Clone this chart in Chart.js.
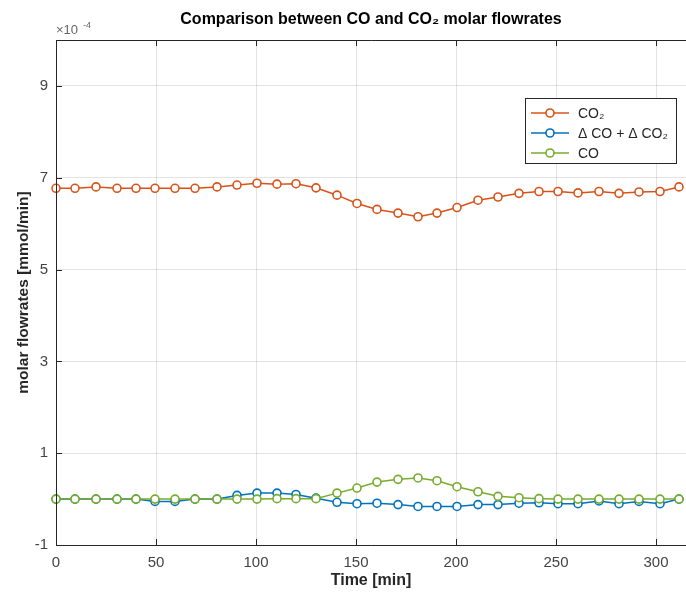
<!DOCTYPE html>
<html>
<head>
<meta charset="utf-8">
<script src="https://cdn.jsdelivr.net/npm/chart.js@4/dist/chart.umd.min.js"></script>
<style>
  html, body { margin: 0; padding: 0; background: #fff; }
  #wrap { width: 686px; height: 594px; }
</style>
</head>
<body>
<div id="wrap"><canvas id="flowChart" width="686" height="594"></canvas></div>
<script>
// Time axis (min) and series values, in units of 1e-4 mmol/min
const timeMin = [0, 9.5, 20, 30.5, 40, 49.5, 59.5, 69.5, 80.5, 90.5, 100.5, 110.5, 120, 130, 140.5, 150.5,
  160.5, 171, 181, 190.5, 200.5, 211, 221, 231.5, 241.5, 251, 261, 271.5, 281.5, 291.5, 302, 311.5];
const co2 = [6.77, 6.77, 6.80, 6.77, 6.77, 6.77, 6.77, 6.77, 6.80, 6.84, 6.88, 6.86, 6.87, 6.78, 6.62, 6.44,
  6.31, 6.23, 6.15, 6.23, 6.35, 6.51, 6.58, 6.66, 6.70, 6.70, 6.67, 6.70, 6.66, 6.69, 6.70, 6.80];
const deltaSum = [0, 0, 0, 0, 0, -0.05, -0.05, 0, 0, 0.08, 0.13, 0.13, 0.10, 0.02, -0.07, -0.10,
  -0.09, -0.12, -0.16, -0.16, -0.16, -0.12, -0.12, -0.09, -0.08, -0.10, -0.10, -0.04, -0.10, -0.05, -0.10, 0];
const co = [0, 0, 0, 0, 0, 0, 0, 0, 0, 0, 0, 0.01, 0.01, 0.01, 0.13, 0.24,
  0.37, 0.43, 0.46, 0.40, 0.27, 0.16, 0.06, 0.03, 0.01, 0, 0, 0, 0, 0, 0, 0];

const xTicks = [0, 50, 100, 150, 200, 250, 300];
const yTicks = [-1, 1, 3, 5, 7, 9];

const seriesLabels = ['CO₂', 'Δ CO + Δ CO₂', 'CO'];
const seriesColors = ['#D95319', '#0072BD', '#77AC30'];

const axisColor = '#262626';
const tickColor = '#444';
const gridColor = 'rgba(0,0,0,0.11)';
const fontFamily = '"Liberation Sans", Arial, Helvetica, sans-serif';

function toPoints(values) {
  return values.map((v, i) => ({ x: timeMin[i], y: v }));
}

function makeDataset(values, idx, order) {
  return {
    label: seriesLabels[idx],
    data: toPoints(values),
    borderColor: seriesColors[idx],
    backgroundColor: seriesColors[idx],
    pointBackgroundColor: '#fff',
    pointBorderColor: seriesColors[idx],
    pointBorderWidth: 1.6,
    pointRadius: 4,
    borderWidth: 1.5,
    tension: 0,
    clip: false,
    order: order
  };
}

// Box, inward ticks, exponent label and legend
const matlabLook = {
  id: 'matlabLook',
  afterDraw(chart) {
    const ctx = chart.ctx;
    const area = chart.chartArea;
    const xs = chart.scales.x;
    const ys = chart.scales.y;
    ctx.save();
    ctx.strokeStyle = axisColor;
    ctx.lineWidth = 1;
    ctx.beginPath();
    ctx.moveTo(area.right, area.top + 0.5);
    ctx.lineTo(area.left + 0.5, area.top + 0.5);
    ctx.lineTo(area.left + 0.5, area.bottom + 0.5);
    ctx.lineTo(area.right, area.bottom + 0.5);
    ctx.stroke();

    // inward ticks
    ctx.beginPath();
    xTicks.forEach(t => {
      const px = Math.round(xs.getPixelForValue(t)) + 0.5;
      ctx.moveTo(px, area.bottom); ctx.lineTo(px, area.bottom - 6);
      ctx.moveTo(px, area.top); ctx.lineTo(px, area.top + 6);
    });
    yTicks.forEach(t => {
      const py = Math.round(ys.getPixelForValue(t)) + 0.5;
      ctx.moveTo(area.left, py); ctx.lineTo(area.left + 6, py);
    });
    ctx.stroke();

    // exponent label
    ctx.fillStyle = '#666';
    ctx.textBaseline = 'alphabetic';
    ctx.textAlign = 'left';
    ctx.font = '13px ' + fontFamily;
    ctx.fillText('×10', area.left, area.top - 6);
    ctx.font = '9px ' + fontFamily;
    ctx.fillText('-4', area.left + 27, area.top - 12);

    // legend
    const lx = 525, ly = 98, lw = 151, lh = 65;
    ctx.fillStyle = '#fff';
    ctx.fillRect(lx, ly, lw, lh);
    ctx.strokeStyle = axisColor;
    ctx.lineWidth = 1;
    ctx.strokeRect(lx + 0.5, ly + 0.5, lw, lh);
    ctx.font = '14px ' + fontFamily;
    ctx.textBaseline = 'middle';
    chart.data.datasets.forEach((ds, i) => {
      const rowY = ly + 15 + i * 20;
      ctx.strokeStyle = ds.borderColor;
      ctx.lineWidth = 1.5;
      ctx.beginPath();
      ctx.moveTo(lx + 6, rowY); ctx.lineTo(lx + 44, rowY);
      ctx.stroke();
      ctx.fillStyle = '#fff';
      ctx.beginPath();
      ctx.arc(lx + 25, rowY, 4, 0, Math.PI * 2);
      ctx.fill();
      ctx.lineWidth = 1.6;
      ctx.stroke();
      ctx.fillStyle = axisColor;
      ctx.fillText(ds.label, lx + 53, rowY + 1);
    });
    ctx.restore();
  }
};

new Chart(document.getElementById('flowChart'), {
  type: 'line',
  data: {
    datasets: [
      makeDataset(co2, 0, 2),
      makeDataset(deltaSum, 1, 1),
      makeDataset(co, 2, 0)
    ]
  },
  options: {
    responsive: false,
    animation: false,
    layout: { autoPadding: false, padding: { left: 0, right: 0, top: 0, bottom: 0 } },
    plugins: {
      legend: { display: false },
      tooltip: { enabled: false },
      title: {
        display: true,
        fullSize: false,
        text: 'Comparison between CO and CO₂ molar flowrates',
        color: '#000',
        font: { family: fontFamily, size: 16, weight: 'bold' },
        padding: { top: 10, bottom: 10.8 }
      }
    },
    scales: {
      x: {
        type: 'linear',
        min: 0,
        max: 315,
        afterBuildTicks: s => { s.ticks = xTicks.map(v => ({ value: v })); },
        afterFit: s => { s.height = 49; s.paddingLeft = 0; s.paddingRight = 0; },
        grid: { color: gridColor, drawTicks: false },
        border: { display: false },
        ticks: { color: tickColor, padding: 9, font: { family: fontFamily, size: 15 }, maxRotation: 0 },
        title: {
          display: true,
          text: 'Time [min]',
          color: axisColor,
          padding: { top: 2, bottom: 4 },
          font: { family: fontFamily, size: 16, weight: 'bold' }
        }
      },
      y: {
        type: 'linear',
        min: -1,
        max: 10,
        afterBuildTicks: s => { s.ticks = yTicks.map(v => ({ value: v })); },
        afterFit: s => { s.width = 56; s.paddingTop = 0; s.paddingBottom = 0; },
        grid: { color: gridColor, drawTicks: false },
        border: { display: false },
        ticks: { color: tickColor, padding: 8, font: { family: fontFamily, size: 15 } },
        title: {
          display: true,
          text: 'molar flowrates [mmol/min]',
          color: axisColor,
          padding: { top: 14, bottom: 0 },
          font: { family: fontFamily, size: 15.5, weight: 'bold' }
        }
      }
    }
  },
  plugins: [matlabLook]
});
</script>
</body>
</html>
